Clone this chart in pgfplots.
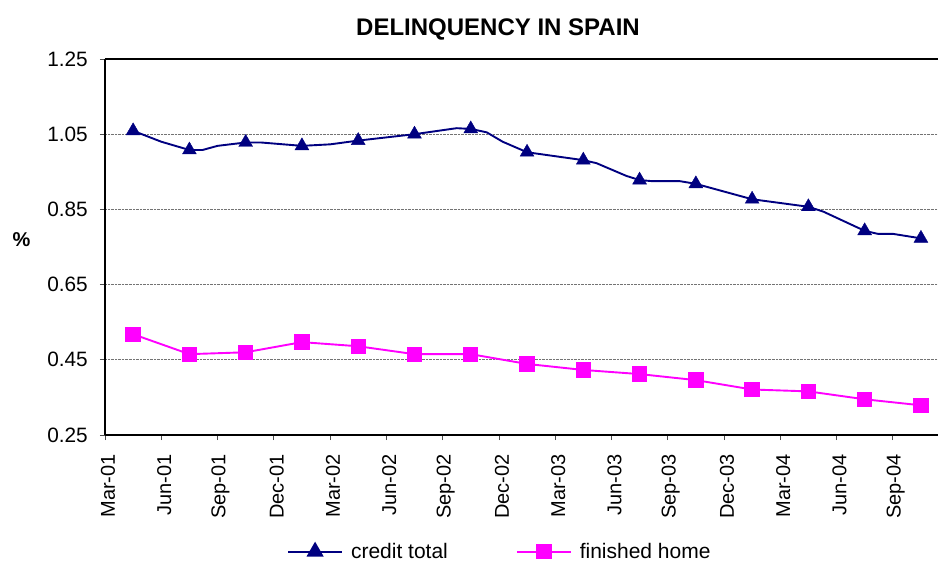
\documentclass[border=0pt]{standalone}
\usepackage{fontspec}
\setmainfont{Liberation Sans}
\usepackage{pgfplots}
\pgfplotsset{compat=1.18}
\definecolor{navyline}{RGB}{0,0,128}
\definecolor{pinkline}{RGB}{255,0,255}
\begin{document}
\begin{tikzpicture}
\path[use as bounding box] (-105bp,-127bp) rectangle (833bp,435bp);
\begin{axis}[
  at={(0,0)}, anchor=south west,
  scale only axis, width=833bp, height=376bp,
  xmin=0, xmax=44.41, ymin=0.25, ymax=1.25,
  axis x line*=bottom, axis y line*=left,
  axis line style={black, line width=1.6bp, -},
  tick align=outside,
  major tick length=5bp,
  tick style={black!70, line width=0.8bp},
  xtick={0,3,...,42},
  xticklabels={Mar-01,Jun-01,Sep-01,Dec-01,Mar-02,Jun-02,Sep-02,Dec-02,Mar-03,Jun-03,Sep-03,Dec-03,Mar-04,Jun-04,Sep-04},
  ytick={0.25,0.45,0.65,0.85,1.05,1.25},
  /pgf/number format/assume math mode=true,
  /pgf/number format/.cd, fixed, fixed zerofill, precision=2, /pgfplots/.cd,
  xticklabel style={rotate=90, anchor=east, inner sep=2bp, xshift=-12bp, yshift=-3bp, font=\fontsize{20bp}{23bp}\selectfont},
  yticklabel style={inner sep=2bp, xshift=-10bp, font=\fontsize{20.8bp}{24bp}\selectfont},
  ymajorgrids,
  major grid style={black!55, densely dotted, line width=0.9bp},
  extra y ticks={1.25},
  extra y tick labels={},
  extra y tick style={grid=major, major grid style={black, solid, line width=1.6bp}, major tick length=0pt},
  title={\bfseries DELINQUENCY IN SPAIN},
  title style={at={(axis description cs:0.4718,1.063)}, anchor=center, font=\fontsize{24bp}{28bp}\selectfont},
  ylabel={\bfseries \%},
  ylabel style={at={(axis description cs:-0.1002,0.5186)}, anchor=center, rotate=-90, font=\fontsize{20bp}{24bp}\selectfont},
  legend columns=2,
  legend style={draw=none, fill=none, at={(axis description cs:0.474,-0.31)}, anchor=center,
    font=\fontsize{21bp}{24bp}\selectfont,
    /tikz/every odd column/.append style={column sep=6bp},
    /tikz/every even column/.append style={column sep=66bp}},
  legend image code/.code={\draw[mark repeat=2, mark phase=2, #1] plot coordinates {(0bp,0bp) (27bp,0bp) (54bp,0bp)};},
]
% credit total: line (all points)
\addplot[navyline, line width=1.9bp, forget plot] coordinates {
(1.5,1.059) (3.0,1.030) (4.5,1.008) (5.2,1.008) (6.0,1.019) (7.5,1.028) (8.3,1.028)
(10.5,1.019) (12.0,1.023) (13.5,1.033) (16.5,1.050) (18.75,1.066) (19.5,1.064)
(20.35,1.055) (21.2,1.030) (22.5,1.002) (25.5,0.981) (26.2,0.973) (27.8,0.939)
(28.5,0.928) (29.2,0.925) (30.66,0.925) (31.5,0.918) (34.5,0.877) (37.5,0.857)
(38.3,0.844) (40.5,0.793) (41.2,0.785) (42.0,0.785) (43.5,0.773)
};
% credit total: quarterly markers
\addplot[only marks, navyline, mark=triangle*, mark size=8bp, forget plot] coordinates {
(1.5,1.059) (4.5,1.008) (7.5,1.028) (10.5,1.019) (13.5,1.033) (16.5,1.050) (19.5,1.064)
(22.5,1.002) (25.5,0.981) (28.5,0.928) (31.5,0.918) (34.5,0.877) (37.5,0.857) (40.5,0.793) (43.5,0.773)
};
% finished home
\addplot[pinkline, line width=1.9bp, mark=square*, mark size=6.7bp, forget plot] coordinates {
(1.5,0.518) (4.5,0.465) (7.5,0.470) (10.5,0.497) (13.5,0.486) (16.5,0.465) (19.5,0.465)
(22.5,0.439) (25.5,0.423) (28.5,0.412) (31.5,0.396) (34.5,0.371) (37.5,0.366) (40.5,0.345) (43.5,0.329)
};
\addlegendimage{navyline, line width=1.9bp, mark=triangle*, mark size=8bp}
\addlegendentry{credit total}
\addlegendimage{pinkline, line width=1.9bp, mark=square*, mark size=6.7bp}
\addlegendentry{finished home}
\end{axis}
\end{tikzpicture}
\end{document}
